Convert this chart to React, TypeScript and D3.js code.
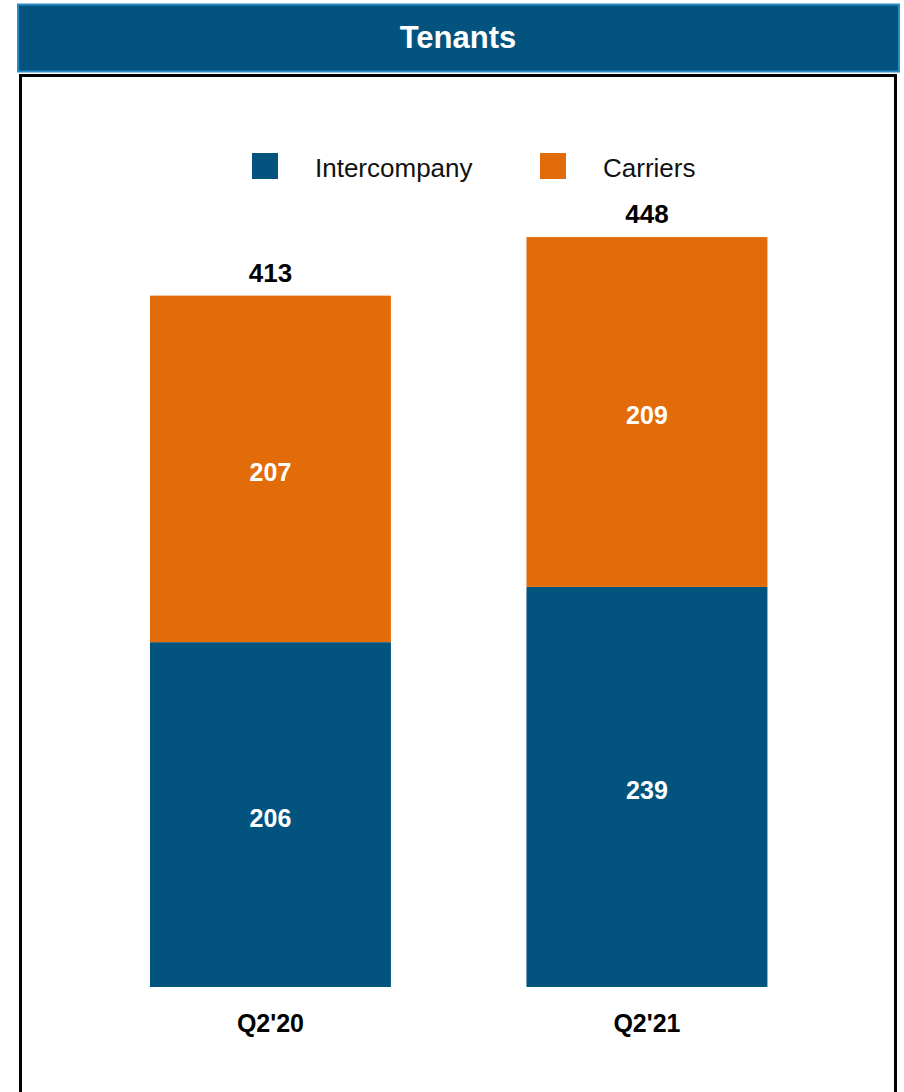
import React from "react";
import * as d3 from "d3";

const categories = ["Q2'20", "Q2'21"];
const intercompany = [206, 239];
const carriers = [207, 209];
const totals = [413, 448];
const seriesNames = ["Intercompany", "Carriers"];
const seriesColors = ["#02547F", "#E36C0A"];

export default function App() {
  const W = 904;
  const H = 1092;
  const baseY = 987;
  const x = d3.scaleBand<string>().domain(categories).range([82.2, 835.2]).paddingInner(0.36).paddingOuter(0.18);
  const y = d3.scaleLinear().domain([0, 500]).range([baseY, baseY - 837]);
  const font = "Liberation Sans, Arial, Helvetica, sans-serif";

  const stackData = categories.map((c, i) => ({ cat: c, Intercompany: intercompany[i], Carriers: carriers[i] }));
  const stacked = d3.stack<any>().keys(seriesNames)(stackData);

  return (
    <div style={{ position: "absolute", left: 0, top: 0 }}>
      <svg width={W} height={H} style={{ display: "block", fontFamily: font }}>
        <rect x={0} y={0} width={W} height={H} fill="#fff" />
        {/* header */}
        <rect x={18} y={4.5} width={881} height={67} fill="#02547F" stroke="#2A8CC4" strokeWidth={2} />
        <text x={458} y={37} textAnchor="middle" dominantBaseline="central" fill="#fff" fontWeight="bold" fontSize={31}>Tenants</text>
        {/* chart box */}
        <rect x={20.5} y={75.5} width={875} height={1030} fill="none" stroke="#000" strokeWidth={3} />
        {/* legend */}
        {seriesNames.map((s, i) => {
          const lx = [252, 540][i];
          return (
            <g key={s}>
              <rect x={lx} y={153} width={26} height={26} fill={seriesColors[i]} />
              <text x={lx + 63} y={168} dominantBaseline="central" fontSize={26} fill="#111">{s}</text>
            </g>
          );
        })}
        {/* bars */}
        {stacked.map((layer, si) => (
          <g key={layer.key}>
            {layer.map((d, i) => {
              const x0 = x(categories[i]) as number;
              const y0 = y(d[1]);
              const h = y(d[0]) - y(d[1]);
              return (
                <g key={i}>
                  <rect x={x0} y={y0} width={x.bandwidth()} height={h} fill={seriesColors[si]} />
                  <text x={x0 + x.bandwidth() / 2} y={y0 + h / 2 + 3} textAnchor="middle" dominantBaseline="central" fill="#fff" fontWeight="bold" fontSize={25}>
                    {d[1] - d[0]}
                  </text>
                </g>
              );
            })}
          </g>
        ))}
        {/* totals */}
        {categories.map((c, i) => (
          <text key={c} x={(x(c) as number) + x.bandwidth() / 2} y={y(totals[i]) - 23} textAnchor="middle" dominantBaseline="central" fill="#000" fontWeight="bold" fontSize={26}>
            {totals[i]}
          </text>
        ))}
        {/* category labels */}
        {categories.map((c) => (
          <text key={c} x={(x(c) as number) + x.bandwidth() / 2} y={1023} textAnchor="middle" dominantBaseline="central" fill="#000" fontWeight="bold" fontSize={25}>
            {c}
          </text>
        ))}
      </svg>
    </div>
  );
}
